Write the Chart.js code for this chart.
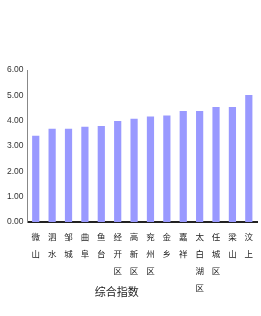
<!DOCTYPE html>
<html lang="zh">
<head>
<meta charset="UTF-8">
<title>综合指数</title>
<script src="https://cdn.jsdelivr.net/npm/chart.js"></script>
<style>
  html, body { margin: 0; padding: 0; background: #fff; }
  #wrap { width: 261px; height: 316px; position: relative; }
</style>
</head>
<body>
<div id="wrap"><canvas id="chart"></canvas></div>
<script>
// data
const regions = ['微山', '泗水', '邹城', '曲阜', '鱼台', '经开区', '高新区', '兖州区', '金乡', '嘉祥', '太白湖区', '任城区', '梁山', '汶上'];
const indexValues = [3.40, 3.68, 3.68, 3.76, 3.79, 3.99, 4.08, 4.16, 4.20, 4.38, 4.38, 4.54, 4.54, 5.01];
const yTicks = [0, 1, 2, 3, 4, 5, 6];
const axisTitle = '综合指数';

// vertical labels: one character per line
const labels = regions.map(r => r.split(''));

const titlePlugin = {
  id: 'axisTitle',
  afterDraw(chart) {
    const { ctx, chartArea, scales } = chart;
    const x = scales.x.getPixelForValue(5) - 1;
    ctx.save();
    ctx.font = '11px "Noto Sans CJK SC"';
    ctx.fillStyle = '#222';
    ctx.textAlign = 'center';
    ctx.textBaseline = 'middle';
    ctx.fillText(axisTitle, x, chartArea.bottom + 70);
    ctx.restore();
  }
};

new Chart(document.getElementById('chart'), {
  type: 'bar',
  data: {
    labels: labels,
    datasets: [{
      label: axisTitle,
      data: indexValues,
      backgroundColor: 'rgb(153,153,255)',
      borderWidth: 0,
      barPercentage: 0.44,
      categoryPercentage: 1
    }]
  },
  options: {
    responsive: true,
    maintainAspectRatio: false,
    animation: false,
    layout: { padding: { top: 70, left: 3, right: 4, bottom: 14 } },
    plugins: { legend: { display: false }, tooltip: { enabled: false } },
    scales: {
      x: {
        grid: { display: false, drawTicks: false },
        border: { display: true, color: '#222', width: 2 },
        ticks: {
          maxRotation: 0,
          minRotation: 0,
          autoSkip: false,
          padding: 6,
          color: '#222',
          font: { family: '"Noto Sans CJK SC"', size: 8.5, lineHeight: 2 }
        }
      },
      y: {
        min: 0,
        max: 6,
        afterBuildTicks: axis => { axis.ticks = yTicks.map(v => ({ value: v })); },
        grid: { display: false, drawTicks: false },
        border: { display: true, color: '#888', width: 1 },
        ticks: {
          padding: 4,
          color: '#333',
          font: { family: 'Liberation Sans', size: 8.5 },
          callback: v => v.toFixed(2)
        }
      }
    }
  },
  plugins: [titlePlugin]
});
</script>
</body>
</html>
